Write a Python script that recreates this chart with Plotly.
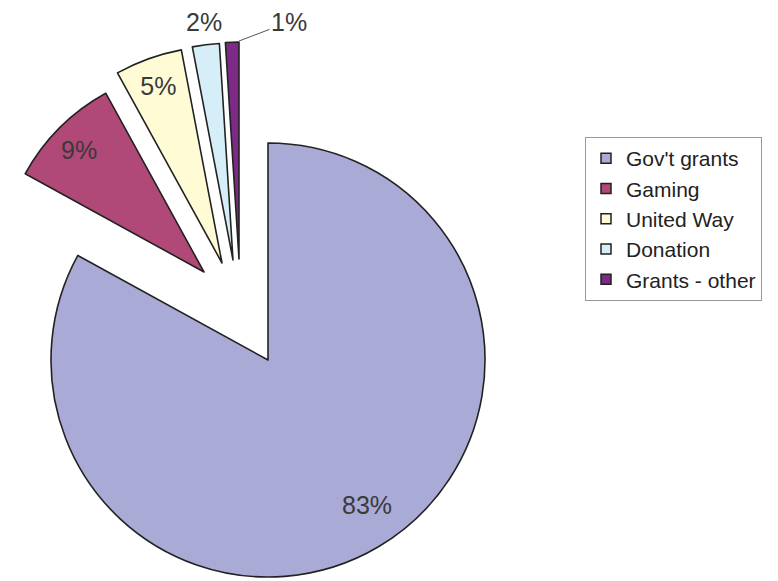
import plotly.graph_objects as go

# ---- data ----
labels = ["Gov't grants", "Gaming", "United Way", "Donation", "Grants - other"]
values = [83, 9, 5, 2, 1]
colors = ["#aaaad6", "#b04878", "#fffbd5", "#d6eef8", "#7c2a85"]

# ---- layout constants (pixels in a 778x581 page) ----
W, H = 778, 581
# exploded slice geometry: (center x, center y, radius) for each slice
slice_geom = [
    (268, 360, 217),   # Gov't grants
    (204, 272, 204),   # Gaming
    (222, 263, 217),   # United Way
    (233, 260, 217),   # Donation
    (239, 259, 217),   # Grants - other
]
# where each percentage label sits: pie's own inside text, or a free label (px)
label_mode = ["free", "free", "pie", "free", "leader"]
label_xy = [(367, 505), (79, 150), None, (204, 22), (289, 22)]
leader_from = (239, 41)

LINE = "#222222"
TXT = "#3a3a3a"
FONT = "Liberation Sans, Arial, sans-serif"
FS = 25

total = sum(values)
pct = [f"{v / total * 100:.0f}%" for v in values]

fig = go.Figure()
for i, (cx, cy, r) in enumerate(slice_geom):
    fills = [colors[j] if j == i else "rgba(0,0,0,0)" for j in range(len(values))]
    widths = [1.6 if j == i else 0 for j in range(len(values))]
    texts = [pct[j] if (j == i and label_mode[j] == "pie") else "" for j in range(len(values))]
    tpos = ["inside" if (j == i and label_mode[j] == "pie") else "none" for j in range(len(values))]
    fig.add_trace(go.Pie(
        labels=labels, values=values, sort=False, direction="clockwise",
        rotation=0,
        marker=dict(colors=fills, line=dict(color=LINE, width=widths)),
        text=texts, texttemplate="%{text}", textposition=tpos,
        insidetextorientation="horizontal",
        textfont=dict(size=FS, color=TXT, family=FONT),
        domain=dict(x=[(cx - r) / W, (cx + r) / W],
                    y=[1 - (cy + r) / H, 1 - (cy - r) / H]),
        showlegend=False, hoverinfo="label+percent",
    ))

# legend entries
for lab, col in zip(labels, colors):
    fig.add_trace(go.Scatter(
        x=[None], y=[None], mode="markers", name=lab,
        marker=dict(symbol="square", size=10, color=col,
                    line=dict(color=LINE, width=1.5)),
        showlegend=True,
    ))

# percentage labels
for i, mode in enumerate(label_mode):
    if mode == "free":
        x, y = label_xy[i]
        fig.add_annotation(x=x / W, y=1 - y / H, xref="paper", yref="paper",
                           xanchor="center", yanchor="middle",
                           text=pct[i], showarrow=False,
                           font=dict(size=FS, color=TXT, family=FONT))
    elif mode == "leader":
        x, y = label_xy[i]
        fx, fy = leader_from
        fig.add_annotation(x=fx / W, y=1 - fy / H, xref="paper", yref="paper",
                           text=pct[i], showarrow=True, arrowhead=0, arrowwidth=1,
                           arrowcolor="#555555", ax=x - fx, ay=y - fy,
                           font=dict(size=FS, color=TXT, family=FONT))

fig.update_layout(
    width=W, height=H,
    margin=dict(l=0, r=0, t=0, b=0, autoexpand=False),
    paper_bgcolor="white", plot_bgcolor="white",
    xaxis=dict(visible=False), yaxis=dict(visible=False),
    legend=dict(
        x=585 / W, xanchor="left", y=1 - 137 / H, yanchor="top",
        bordercolor="#999999", borderwidth=1, bgcolor="white",
        font=dict(size=21, color="#222222", family=FONT),
        traceorder="normal",
    ),
)

fig.write_html("out.html")
